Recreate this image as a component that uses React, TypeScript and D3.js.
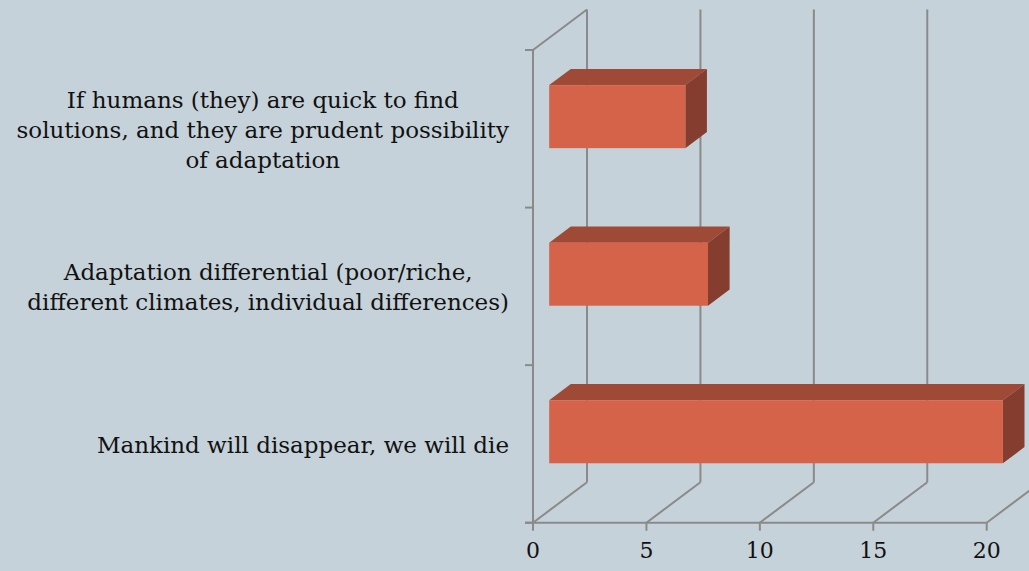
import { useEffect, useRef } from "react";
import * as d3 from "d3";

// categories top to bottom, each split in the lines shown on the chart
const categories = [
  ["If humans (they) are quick to find", "solutions, and they are prudent possibility", "of adaptation"],
  ["Adaptation differential (poor/riche,", "different climates, individual differences)"],
  ["Mankind will disappear, we will die"],
];
const values = [6, 7, 20];
const xTicks = [0, 5, 10, 15, 20];

const W = 1029;
const H = 571;
const FONT = "'DejaVu Serif', Georgia, serif";

export default function App() {
  const svgRef = useRef<SVGSVGElement>(null);

  useEffect(() => {
    document.body.style.margin = "0";
    const el = svgRef.current;
    if (!el) return;
    const svg = d3.select(el);
    svg.selectAll("*").remove();

    // front plane
    const x0 = 533;
    const x1 = 986.7;
    const yTop = 50;
    const yBot = 522.7;
    // full depth of the 3d box
    const DX = 54;
    const DY = -40.5;
    // bars sit between 30% and 70% of the depth
    const d0 = 0.3;
    const d1 = 0.7;

    const xs = d3.scaleLinear().domain([0, 20]).range([x0, x1]);
    const ys = d3
      .scaleBand<number>()
      .domain(d3.range(categories.length))
      .range([yTop, yBot])
      .paddingInner(0.6)
      .paddingOuter(0.3);

    const grid = "#8a8a8a";
    const g = svg.append("g");

    // left wall edges
    g.append("line")
      .attr("x1", x0).attr("x2", x0)
      .attr("y1", yTop).attr("y2", yBot)
      .attr("stroke", grid).attr("stroke-width", 2);
    g.append("line")
      .attr("x1", x0).attr("x2", x0 + DX)
      .attr("y1", yTop).attr("y2", yTop + DY)
      .attr("stroke", grid).attr("stroke-width", 2);

    // category tick marks
    const bandEdges = [yTop, ...d3.range(1, categories.length).map((i) => ys(i)! - (ys.step() * 0.6) / 2), yBot];
    g.selectAll("line.ct")
      .data(bandEdges)
      .join("line")
      .attr("class", "ct")
      .attr("x1", x0 - 8).attr("x2", x0)
      .attr("y1", (d) => d).attr("y2", (d) => d)
      .attr("stroke", grid).attr("stroke-width", 2);

    // floor front edge
    g.append("line")
      .attr("x1", x0 - 8).attr("x2", x1)
      .attr("y1", yBot).attr("y2", yBot)
      .attr("stroke", grid).attr("stroke-width", 2);

    // value ticks, floor lines and back wall gridlines
    xTicks.forEach((t) => {
      const x = xs(t);
      g.append("line")
        .attr("x1", x).attr("x2", x)
        .attr("y1", yBot).attr("y2", yBot + 8)
        .attr("stroke", grid).attr("stroke-width", 2);
      g.append("line")
        .attr("x1", x).attr("x2", x + DX)
        .attr("y1", yBot).attr("y2", yBot + DY)
        .attr("stroke", grid).attr("stroke-width", 2);
      g.append("line")
        .attr("x1", x + DX).attr("x2", x + DX)
        .attr("y1", yBot + DY).attr("y2", yTop + DY)
        .attr("stroke", grid).attr("stroke-width", 2);
    });

    // 3d bars
    const bars = svg.append("g");
    values.forEach((v, i) => {
      const by = ys(i)!;
      const bh = ys.bandwidth();
      const fx0 = xs(0) + d0 * DX;
      const fx1 = xs(v) + d0 * DX;
      const fy0 = by + d0 * DY;
      const fy1 = by + bh + d0 * DY;
      const ox = (d1 - d0) * DX;
      const oy = (d1 - d0) * DY;
      const pts = (p: number[][]) => p.map((q) => q.join(",")).join(" ");
      // top face
      bars.append("polygon")
        .attr("points", pts([[fx0, fy0], [fx0 + ox, fy0 + oy], [fx1 + ox, fy0 + oy], [fx1, fy0]]))
        .attr("fill", "#9e4a36");
      // side face
      bars.append("polygon")
        .attr("points", pts([[fx1, fy0], [fx1 + ox, fy0 + oy], [fx1 + ox, fy1 + oy], [fx1, fy1]]))
        .attr("fill", "#843d2e");
      // front face
      bars.append("rect")
        .attr("x", fx0).attr("y", fy0)
        .attr("width", fx1 - fx0).attr("height", fy1 - fy0)
        .attr("fill", "#d4634a");
    });

    // value labels
    svg.append("g")
      .selectAll("text")
      .data(xTicks)
      .join("text")
      .attr("x", (d) => xs(d))
      .attr("y", 558)
      .attr("text-anchor", "middle")
      .attr("font-family", FONT)
      .attr("font-size", 22)
      .attr("fill", "#111")
      .text((d) => d);

    // category labels: block right-aligned at 509, lines centered in block
    const labelRight = 509;
    const lh = 30;
    const fs = 23;
    const lab = svg.append("g");
    categories.forEach((lines, i) => {
      const cy = ys(i)! + ys.bandwidth() / 2;
      const txt = lab.append("text")
        .attr("font-family", FONT)
        .attr("font-size", fs)
        .attr("fill", "#111")
        .attr("text-anchor", "middle");
      const spans = lines.map((l, k) =>
        txt.append("tspan")
          .attr("y", cy + (k - (lines.length - 1) / 2) * lh + 9)
          .text(l)
      );
      const maxW = d3.max(spans, (s) => (s.node() as SVGTSpanElement).getComputedTextLength()) || 0;
      spans.forEach((s) => s.attr("x", labelRight - maxW / 2));
    });
  }, []);

  return (
    <svg
      ref={svgRef}
      width={W}
      height={H}
      style={{ display: "block", background: "#c6d2d9" }}
    />
  );
}
